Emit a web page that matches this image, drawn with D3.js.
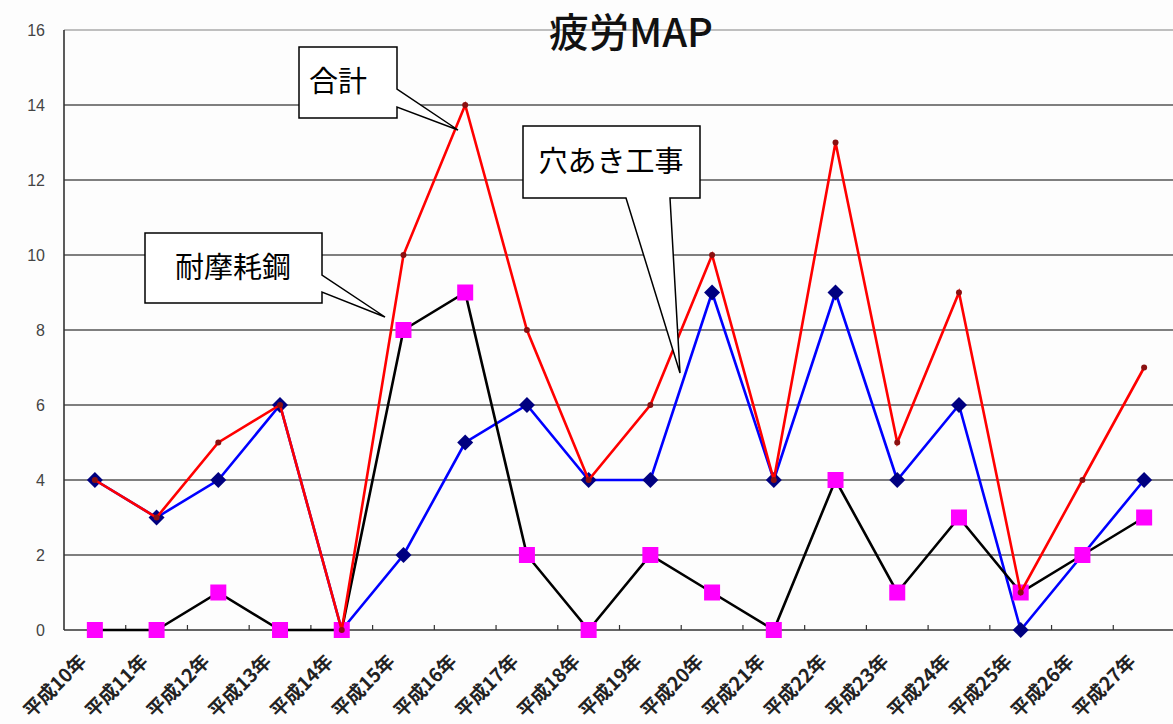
<!DOCTYPE html>
<html><head><meta charset="utf-8">
<script src="https://cdn.jsdelivr.net/npm/d3@7"></script>
<style>body{margin:0;background:#fff}svg{display:block}</style>
</head><body>
<svg id="c" width="1173" height="724"></svg>
<script>
const categories = ["平成10年","平成11年","平成12年","平成13年","平成14年","平成15年","平成16年","平成17年","平成18年","平成19年","平成20年","平成21年","平成22年","平成23年","平成24年","平成25年","平成26年","平成27年"];
const totalValues = [4,3,5,6,0,10,14,8,4,6,10,4,13,5,9,1,4,7];      // 合計
const holeValues  = [4,3,4,6,0,2,5,6,4,4,9,4,9,4,6,0,2,4];          // 穴あき工事
const wearValues  = [0,0,1,0,0,8,9,2,0,2,1,0,4,1,3,1,2,3];          // 耐摩耗鋼
const yTicks = [0,2,4,6,8,10,12,14,16];
const title = "疲労MAP";

(function(){
const svg = d3.select("#c");
const pL = 64, pR = 1175, pT = 30, pB = 630;
const x = d3.scalePoint().domain(categories).range([pL, pR]).padding(0.5);
const y = d3.scaleLinear().domain([0,16]).range([pB, pT]);
const step = x.step();

svg.append("rect").attr("width",1173).attr("height",724).attr("fill","#fdfdfd");

// gridlines
svg.append("g").selectAll("line").data(yTicks.filter(d=>d>0)).join("line")
  .attr("x1",pL).attr("x2",1173).attr("y1",d=>y(d)).attr("y2",d=>y(d))
  .attr("stroke",d=>d===16?"#aaa":"#555").attr("stroke-width",1.6);

// y axis
const ya = svg.append("g").attr("transform",`translate(${pL},0)`)
  .call(d3.axisLeft(y).tickValues(yTicks).tickSize(0).tickPadding(19));
ya.select(".domain").remove();
ya.selectAll("text").attr("font-family","Liberation Sans, Arial, sans-serif").attr("font-size",16).attr("fill","#444");
svg.append("line").attr("x1",pL).attr("x2",pL).attr("y1",pT).attr("y2",pB).attr("stroke","#333").attr("stroke-width",1.6);

// x axis
svg.append("line").attr("x1",pL).attr("x2",1173).attr("y1",pB).attr("y2",pB).attr("stroke","#333").attr("stroke-width",1.6);
svg.append("g").selectAll("line").data(categories.slice(1)).join("line")
  .attr("x1",d=>x(d)-step/2).attr("x2",d=>x(d)-step/2).attr("y1",pB-5).attr("y2",pB)
  .attr("stroke","#333").attr("stroke-width",1.2);
svg.append("g").selectAll("text").data(categories).join("text")
  .attr("transform",d=>`translate(${x(d)-12},${pB+28}) rotate(-45)`)
  .attr("text-anchor","end").attr("dy","0.35em")
  .attr("font-family","Noto Sans CJK JP").attr("font-weight","bold").attr("font-size",19).attr("fill","#222")
  .text(d=>d);

const line = vals => d3.line().x((d,i)=>x(categories[i])).y(d=>y(d))(vals);

// blue series
svg.append("path").attr("d",line(holeValues)).attr("fill","none").attr("stroke","#0000ff").attr("stroke-width",2.6);
svg.append("g").selectAll("path").data(holeValues).join("path")
  .attr("transform",(d,i)=>`translate(${x(categories[i])},${y(d)})`)
  .attr("d","M0,-8L8,0L0,8L-8,0Z").attr("fill","#000080");

// black / magenta series
svg.append("path").attr("d",line(wearValues)).attr("fill","none").attr("stroke","#000").attr("stroke-width",2.6);
svg.append("g").selectAll("rect").data(wearValues).join("rect")
  .attr("x",(d,i)=>x(categories[i])-8).attr("y",d=>y(d)-8).attr("width",16).attr("height",16).attr("fill","#ff00ff");

// red series
svg.append("path").attr("d",line(totalValues)).attr("fill","none").attr("stroke","#ff0000").attr("stroke-width",2.6);
svg.append("g").selectAll("circle").data(totalValues).join("circle")
  .attr("cx",(d,i)=>x(categories[i])).attr("cy",d=>y(d)).attr("r",3).attr("fill","#8b1010");

// title
svg.append("text").attr("x",631).attr("y",47).attr("text-anchor","middle")
  .attr("font-family","Noto Sans CJK JP").attr("font-weight","500").attr("font-size",40).attr("fill","#111").text(title);

// callouts
function callout(pts, label, tx, ty){
  svg.append("path").attr("d","M"+pts.map(p=>p.join(",")).join("L")+"Z")
    .attr("fill","#fff").attr("stroke","#000").attr("stroke-width",1.5);
  svg.append("text").attr("x",tx).attr("y",ty).attr("text-anchor","middle").attr("dy","0.35em")
    .attr("font-family","Noto Sans CJK JP").attr("font-size",29).attr("fill","#000").text(label);
}
callout([[299,47],[397,47],[397,89],[458,130],[397,107],[397,118],[299,118]], "合計", 338, 82);
callout([[145,233],[322,233],[322,275],[385,317],[322,292],[322,303],[145,303]], "耐摩耗鋼", 233, 268);
callout([[523,126],[700,126],[700,198],[670,198],[680,373],[626,198],[523,198]], "穴あき工事", 611, 162);
})();
</script>
</body></html>
